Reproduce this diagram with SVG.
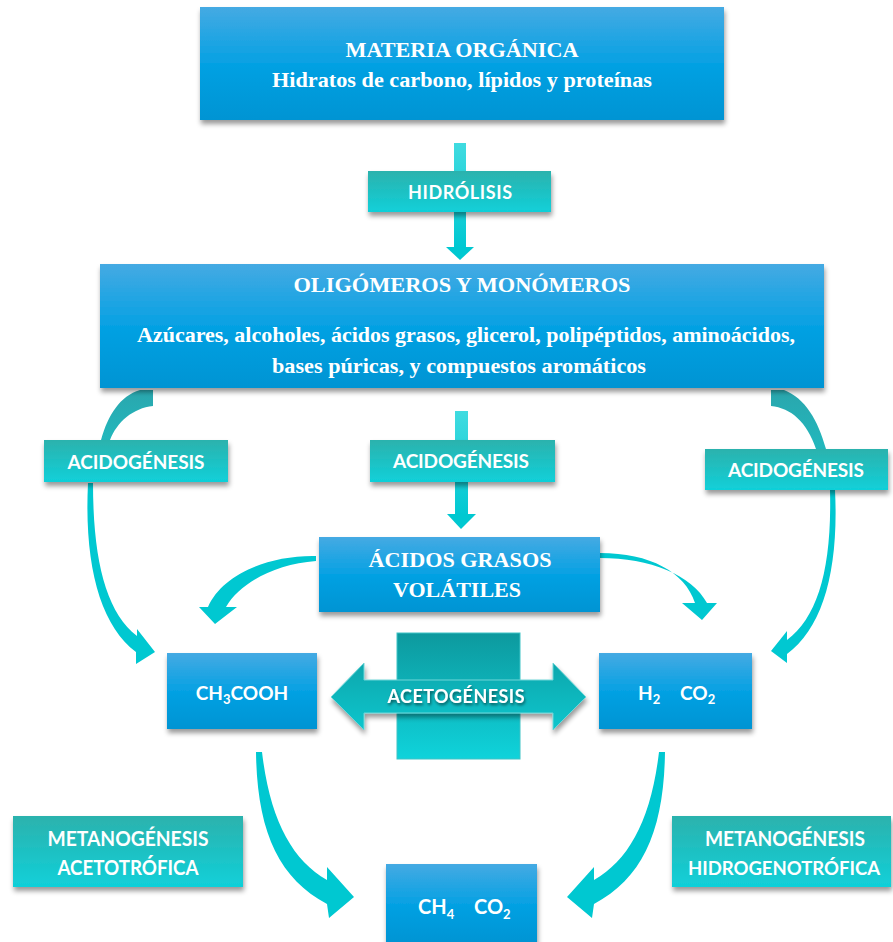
<svg xmlns="http://www.w3.org/2000/svg" width="893" height="942" viewBox="0 0 893 942">
<defs>
<linearGradient id="gBlue" x1="0" y1="0" x2="0" y2="1">
<stop offset="0" stop-color="#45aae3"/><stop offset="0.5" stop-color="#06a1e3"/><stop offset="1" stop-color="#0094d3"/>
</linearGradient>
<linearGradient id="gTeal" x1="0" y1="0" x2="0" y2="1">
<stop offset="0" stop-color="#2cb2ad"/><stop offset="1" stop-color="#10d0d9"/>
</linearGradient>
<linearGradient id="gAceto" gradientUnits="userSpaceOnUse" x1="0" y1="633" x2="0" y2="759">
<stop offset="0" stop-color="#0d999e"/><stop offset="1" stop-color="#0fd3db"/>
</linearGradient>
<linearGradient id="gStem" x1="0" y1="0" x2="0" y2="1">
<stop offset="0" stop-color="#40dbe0"/><stop offset="1" stop-color="#00c8d2"/>
</linearGradient>
<linearGradient id="gCurveTop" x1="0" y1="0" x2="0" y2="1">
<stop offset="0" stop-color="#2aa6ad"/><stop offset="1" stop-color="#22b8bd"/>
</linearGradient>
<filter id="sh" x="-10%" y="-10%" width="120%" height="140%">
<feDropShadow dx="1" dy="4" stdDeviation="2.5" flood-color="#000" flood-opacity="0.4"/>
</filter>
<filter id="tsh" x="-10%" y="-30%" width="120%" height="170%">
<feDropShadow dx="1" dy="2" stdDeviation="1.5" flood-color="#000" flood-opacity="0.55"/>
</filter>
</defs>
<style>
.blue{fill:url(#gBlue)}
.teal{fill:url(#gTeal)}
.arr{fill:#00c8d1}
.st{font-family:"Liberation Serif","Times New Roman",serif;font-weight:bold;fill:#fff;text-anchor:middle}
.sn{font-family:Lato,"Open Sans","Liberation Sans",sans-serif;font-weight:bold;fill:#fff;text-anchor:middle}
.ss{font-family:Lato,"Open Sans","Liberation Sans",sans-serif;font-weight:bold;fill:#fff}
</style>

<g id="connectors">
<!-- hidrolisis -->
<rect x="454" y="143" width="12" height="105" fill="url(#gStem)"/>
<polygon class="arr" points="446,247 474,247 460,260"/>
<!-- middle acidogenesis -->
<rect x="455" y="411" width="13" height="104" fill="url(#gStem)"/>
<polygon class="arr" points="447,514 476,514 461,529"/>
<!-- left big acidogenesis -->
<path d="M153,390 L153,406 C133,408 117,422 110,440 L101,440 C108,415 120,396 140,390 Z" fill="url(#gCurveTop)"/>
<path class="arr" d="M88,483 C84,565 100,625 136,652 L136,664 L155,652 L137,629 L137,636 C106,612 93,560 93,483 Z"/>
<!-- right big acidogenesis -->
<path d="M771,390 L771,406 C791,408 807,422 816,449 L826,449 C818,420 805,398 784,390 Z" fill="url(#gCurveTop)"/>
<path class="arr" d="M835,490 C839,570 823,628 787,654 L787,663 L771,651 L787,631 L787,640 C818,617 832,568 830,490 Z"/>
<!-- from acidos grasos volatiles -->
<path class="arr" d="M316,556 C268,555 222,575 208,607 L199,607 L215,624 L237,607 L226,607 C240,583 275,564 316,561 Z"/>
<path class="arr" d="M600,553 C650,553 685,572 695,603 L682,603 L702,620 L717,603 L707,603 C692,575 650,558 600,558 Z"/>
<!-- metanogenesis -->
<path class="arr" d="M256,752 C257,830 278,878 327,904 L329,918 L354,897 L327,867 L327,880 C292,860 270,820 262,752 Z"/>
<path class="arr" d="M665,752 C664,830 643,878 594,904 L592,918 L567,897 L594,867 L594,880 C629,860 651,820 659,752 Z"/>
</g>

<g id="materia">
<rect class="blue" x="200" y="7" width="524" height="113" filter="url(#sh)"/>
<text class="st" x="462" y="57" font-size="22" textLength="233" lengthAdjust="spacingAndGlyphs">MATERIA ORGÁNICA</text>
<text class="st" x="462" y="87" font-size="21" textLength="380" lengthAdjust="spacingAndGlyphs">Hidratos de carbono, lípidos y proteínas</text>
</g>

<g id="hidrolisis">
<rect class="teal" x="368" y="171" width="183" height="41" filter="url(#sh)"/>
<text class="sn" x="460" y="199" font-size="18" textLength="104">HIDRÓLISIS</text>
</g>

<g id="oligomeros">
<rect class="blue" x="100" y="264" width="724" height="124" filter="url(#sh)"/>
<text class="st" x="462" y="292" font-size="21" textLength="337" lengthAdjust="spacingAndGlyphs">OLIGÓMEROS Y MONÓMEROS</text>
<text class="st" x="466" y="342" font-size="21" textLength="658" lengthAdjust="spacingAndGlyphs">Azúcares, alcoholes, ácidos grasos, glicerol, polipéptidos, aminoácidos,</text>
<text class="st" x="459" y="373" font-size="21" textLength="374" lengthAdjust="spacingAndGlyphs">bases púricas, y compuestos aromáticos</text>
</g>

<g id="acidogenesis-left">
<rect class="teal" x="44" y="440" width="184" height="42" filter="url(#sh)"/>
<text class="sn" x="136" y="469" font-size="19" textLength="137">ACIDOGÉNESIS</text>
</g>

<g id="acidogenesis-mid">
<rect class="teal" x="370" y="440" width="185" height="42" filter="url(#sh)"/>
<text class="sn" x="461" y="468" font-size="19" textLength="136">ACIDOGÉNESIS</text>
</g>

<g id="acidogenesis-right">
<rect class="teal" x="705" y="449" width="183" height="41" filter="url(#sh)"/>
<text class="sn" x="796" y="477" font-size="19" textLength="136">ACIDOGÉNESIS</text>
</g>

<g id="acidos">
<rect class="blue" x="319" y="537" width="281" height="75" filter="url(#sh)"/>
<text class="st" x="460" y="567" font-size="22" textLength="183" lengthAdjust="spacingAndGlyphs">ÁCIDOS GRASOS</text>
<text class="st" x="457" y="597" font-size="22" textLength="128" lengthAdjust="spacingAndGlyphs">VOLÁTILES</text>
</g>

<g id="ch3cooh">
<rect class="blue" x="167" y="653" width="150" height="76" filter="url(#sh)"/>
<text class="sn" x="242" y="700" font-size="19">CH<tspan font-size="13" dy="4">3</tspan><tspan dy="-4">COOH</tspan></text>
</g>

<g id="acetogenesis">
<rect x="397" y="633" width="123" height="126" fill="url(#gAceto)" stroke="#3fc3c6" stroke-width="1"/>
<polygon points="331,697 364,663 364,680 553,680 553,663 586,697 553,730 553,713 364,713 364,730" fill="url(#gAceto)" stroke="#6fd6d8" stroke-width="1" filter="url(#sh)"/>
<text class="sn" x="456" y="703" font-size="18" textLength="137" filter="url(#tsh)">ACETOGÉNESIS</text>
</g>

<g id="h2co2">
<rect class="blue" x="599" y="653" width="153" height="76" filter="url(#sh)"/>
<text class="ss" x="638" y="700" font-size="19">H<tspan font-size="13" dy="4">2</tspan><tspan x="680" dy="-4">CO</tspan><tspan font-size="13" dy="4">2</tspan></text>
</g>

<g id="metanogenesis-acetotrofica">
<rect class="teal" x="13" y="816" width="230" height="71" filter="url(#sh)"/>
<text class="sn" x="128" y="846" font-size="20" textLength="161" lengthAdjust="spacingAndGlyphs">METANOGÉNESIS</text>
<text class="sn" x="128" y="875" font-size="20" textLength="141" lengthAdjust="spacingAndGlyphs">ACETOTRÓFICA</text>
</g>

<g id="metanogenesis-hidrogenotrofica">
<rect class="teal" x="672" y="816" width="219" height="71" filter="url(#sh)"/>
<text class="sn" x="785" y="846" font-size="20" textLength="160" lengthAdjust="spacingAndGlyphs">METANOGÉNESIS</text>
<text class="sn" x="784" y="875" font-size="19" textLength="192" lengthAdjust="spacingAndGlyphs">HIDROGENOTRÓFICA</text>
</g>

<g id="ch4co2">
<rect class="blue" x="386" y="864" width="151" height="80" filter="url(#sh)"/>
<text class="ss" x="418" y="914" font-size="20">CH<tspan font-size="13" dy="5">4</tspan><tspan x="474" dy="-5">CO</tspan><tspan font-size="13" dy="5">2</tspan></text>
</g>
</svg>
